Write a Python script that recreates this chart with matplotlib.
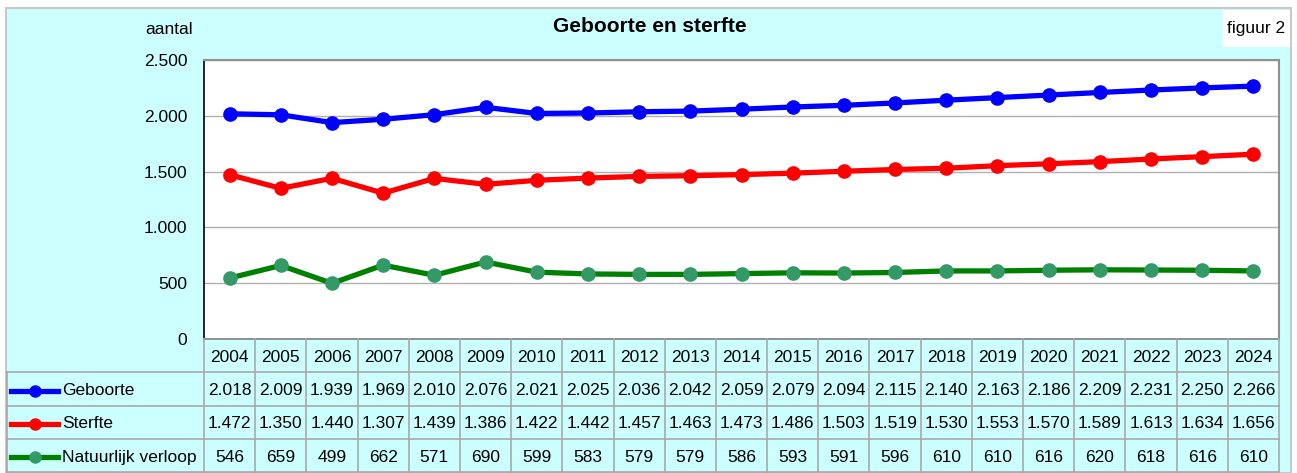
import numpy as np
import matplotlib.pyplot as plt
from matplotlib.patches import Rectangle
from matplotlib.ticker import FuncFormatter

plt.rcParams['font.family'] = ['Liberation Sans', 'DejaVu Sans']
plt.rcParams['font.size'] = 12.5

# data
years = [2004, 2005, 2006, 2007, 2008, 2009, 2010, 2011, 2012, 2013, 2014,
         2015, 2016, 2017, 2018, 2019, 2020, 2021, 2022, 2023, 2024]
geboorte = [2018, 2009, 1939, 1969, 2010, 2076, 2021, 2025, 2036, 2042, 2059,
            2079, 2094, 2115, 2140, 2163, 2186, 2209, 2231, 2250, 2266]
sterfte = [1472, 1350, 1440, 1307, 1439, 1386, 1422, 1442, 1457, 1463, 1473,
           1486, 1503, 1519, 1530, 1553, 1570, 1589, 1613, 1634, 1656]
verloop = [546, 659, 499, 662, 571, 690, 599, 583, 579, 579, 586,
           593, 591, 596, 610, 610, 616, 620, 618, 616, 610]

series = [
    ("Geboorte", geboorte, "#0000FF", "#0000FF"),
    ("Sterfte", sterfte, "#FF0000", "#FF0000"),
    ("Natuurlijk verloop", verloop, "#008000", "#339966"),
]

W, H = 1297, 473
BG = "#CCFFFF"
GRID = "#B0B0B0"


def nl(v, pos=None):
    return f"{int(v):,}".replace(",", ".")


def box(x0, y0, x1, y1):
    # pixel box (top-left origin) -> figure fraction rect
    return [x0 / W, 1 - y1 / H, (x1 - x0) / W, (y1 - y0) / H]


fig = plt.figure(figsize=(W / 100, H / 100), dpi=100)
fig.patch.set_facecolor("white")
fig.patches.append(Rectangle((6 / W, 0), (1291 - 6) / W, 1 - 8 / H,
                             transform=fig.transFigure, facecolor=BG,
                             edgecolor="#C8C8C8", lw=1.5, zorder=-10))
fig.patches.append(Rectangle((1223 / W, 1 - 47 / H), 67 / W, 37 / H,
                             transform=fig.transFigure, facecolor="white",
                             edgecolor="none", zorder=-9))

# plot area
x = np.arange(len(years))
ax = fig.add_axes(box(204, 60, 1279, 339))
ax.set_facecolor("white")
for name, vals, lc, mc in series:
    ax.plot(x, vals, color=lc, lw=3.8, marker="o", ms=9.5,
            markerfacecolor=mc, markeredgecolor=mc, solid_capstyle="round")
ax.set_xlim(-0.5, len(years) - 0.5)
ax.set_ylim(0, 2500)
ax.set_yticks(range(0, 2501, 500))
ax.yaxis.set_major_formatter(FuncFormatter(nl))
ax.set_xticks([])
ax.tick_params(axis="y", length=0, pad=12, labelsize=12.5)
ax.grid(axis="y", color=GRID, lw=1)
ax.set_axisbelow(True)
for s in ("top", "right"):
    ax.spines[s].set_color("#909090")
    ax.spines[s].set_linewidth(1.5)
for s in ("left", "bottom"):
    ax.spines[s].set_color("black")
    ax.spines[s].set_linewidth(1.2)

fig.text(650 / W, 1 - 27 / H, "Geboorte en sterfte", ha="center", va="center",
         fontsize=15, fontweight="bold")
fig.text(193 / W, 1 - 29 / H, "aantal", ha="right", va="center", fontsize=12.5)
fig.text(1256 / W, 1 - 28 / H, "figuur 2", ha="center", va="center", fontsize=12.5)

# data table below the plot
colw = (1279 - 204) / len(years)
left = -0.5 - (204 - 7) / colw
tab = fig.add_axes(box(7, 339, 1279, 472))
tab.set_xlim(left, len(years) - 0.5)
tab.set_ylim(4, 0)
tab.axis("off")
tab.patch.set_alpha(0)
lk = dict(color="#A8A8A8", lw=1.2, clip_on=False)

# horizontal lines
tab.plot([-0.5, len(years) - 0.5], [0, 0], **lk)
for r in (1, 2, 3, 4):
    tab.plot([left, len(years) - 0.5], [r, r], **lk)
# vertical lines
for c in range(len(years) + 1):
    tab.plot([c - 0.5, c - 0.5], [0, 4], **lk)
tab.plot([left, left], [1, 4], **lk)

for i, yr in enumerate(years):
    tab.text(i, 0.55, str(yr), ha="center", va="center", fontsize=12.5)

for r, (name, vals, lc, mc) in enumerate(series, start=1):
    yc = r + 0.55
    kx = [left + 0.08, left + 1.0]
    tab.plot(kx, [yc, yc], color=lc, lw=3.8, clip_on=False)
    tab.plot([np.mean(kx)], [yc], "o", color=mc, ms=8, clip_on=False)
    tab.text(left + 1.08, yc, name, ha="left", va="center", fontsize=12.5)
    for i, v in enumerate(vals):
        tab.text(i, yc, nl(v), ha="center", va="center", fontsize=12.5)

fig.savefig("out.png", dpi=100)
